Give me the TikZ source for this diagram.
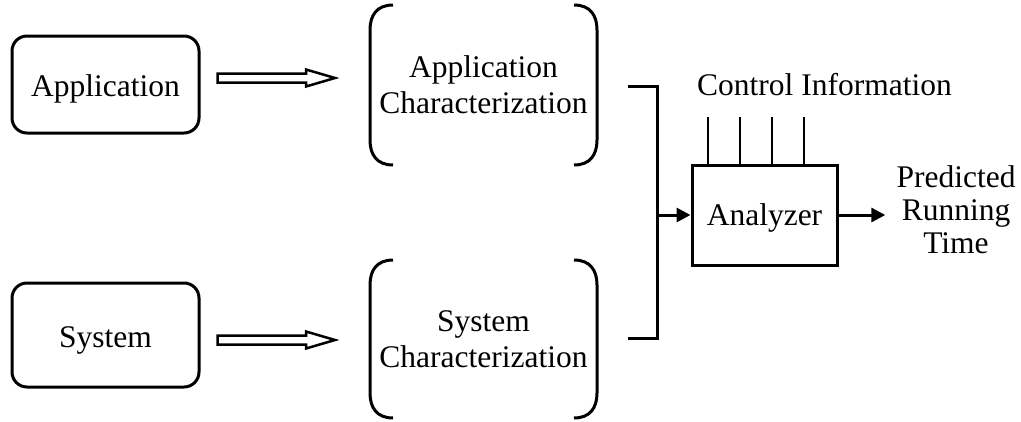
\documentclass[tikz,border=0pt]{standalone}
\usepackage{fontspec}
\setmainfont{Liberation Serif}
\usetikzlibrary{calc,arrows.meta}

% open block arrow between two coordinates on one horizontal line
\newcommand\hollowarrow[2]{%
  \draw[hollow] ($(#1)+(0,-4.5)$) -- ($(#2)+(-29,-4.5)$) -- ($(#2)+(-29,-8.5)$)
    -- (#2) -- ($(#2)+(-29,8.5)$) -- ($(#2)+(-29,4.5)$) -- ($(#1)+(0,4.5)$) -- cycle;}

% round brackets on the left and right side of a node
\newcommand\drawbrackets[1]{%
  \draw[bracketline] ($(#1.north west)+(23,0)$)
    .. controls ($(#1.north west)+(7,0)$) and ($(#1.north west)+(0,10)$) .. ($(#1.north west)+(0,25)$)
    -- ($(#1.south west)+(0,-25)$)
    .. controls ($(#1.south west)+(0,-10)$) and ($(#1.south west)+(7,0)$) .. ($(#1.south west)+(23,0)$);
  \draw[bracketline] ($(#1.north east)+(-23,0)$)
    .. controls ($(#1.north east)+(-7,0)$) and ($(#1.north east)+(0,10)$) .. ($(#1.north east)+(0,25)$)
    -- ($(#1.south east)+(0,-25)$)
    .. controls ($(#1.south east)+(0,-10)$) and ($(#1.south east)+(-7,0)$) .. ($(#1.south east)+(-23,0)$);}

\begin{document}
\begin{tikzpicture}[x=1pt,y=-1pt,
  txt/.style={font=\fontsize{31.5}{36}\selectfont},
  srcbox/.style={txt,draw,line width=3pt,rounded corners=15pt,minimum width=187pt,
    inner sep=0pt,text height=24pt,text depth=0pt},
  charbox/.style={txt,align=center,inner sep=0pt,outer sep=0pt,minimum width=227pt},
  bracketline/.style={line width=3pt},
  hollow/.style={draw,line width=2.5pt,fill=white,line join=miter},
  wire/.style={line width=3pt},
  flow/.style={line width=3pt,-{Triangle[length=14pt,width=14pt]}},
  ctrl/.style={line width=2pt},
]
\useasboundingbox (0,0) rectangle (1021,421);

% sources
\node[srcbox,minimum height=97pt] (app) at (105.5,84.5) {Application};
\node[srcbox,minimum height=104pt] (sys) at (105.5,335) {System};

% characterizations
\node[charbox,minimum height=160pt] (appchar) at (483.5,85) {Application\\Characterization};
\node[charbox,minimum height=158pt] (syschar) at (483.5,339) {System\\Characterization};
\drawbrackets{appchar}
\drawbrackets{syschar}

% block arrows
\coordinate (h1s) at ($(app.east)+(17,-6.5)$);
\coordinate (h1e) at ($(h1s -| appchar.west)+(-35,0)$);
\coordinate (h2s) at ($(sys.east)+(17,5)$);
\coordinate (h2e) at ($(h2s -| syschar.west)+(-35,0)$);
\hollowarrow{h1s}{h1e}
\hollowarrow{h2s}{h2e}

% analyzer
\node[txt,draw,line width=3pt,minimum width=145pt,minimum height=100pt,inner sep=0pt,
  text height=21pt,text depth=0pt] (ana) at (764.5,215) {Analyzer};

% merging lines into the analyzer
\coordinate (jt) at ($(appchar.east)+(31,1)$);
\coordinate (jb) at ($(syschar.east)+(31,-1)$);
\coordinate (spine) at ($(ana.west)+(-33.5,0)$);
\draw[wire] (jt) -| (spine) |- (jb);
\draw[flow] (spine) -- (ana.west);

% control inputs
\node[txt,anchor=base] (ctl) at (824.5,95) {Control Information};
\foreach \i/\dx in {1/17.5,2/49.5,3/81.5,4/113.5}{
  \coordinate (c\i) at ($(ana.north west)+(\dx,-46.5)$);
  \draw[ctrl] (c\i) -- (c\i |- ana.north);
}

% output
\node[txt,align=center,font=\fontsize{31.5}{33}\selectfont,inner sep=11pt] (pred) at (956,210) {Predicted\\Running\\Time};
\draw[flow] (ana.east) -- (ana.east -| pred.west);
\end{tikzpicture}
\end{document}
